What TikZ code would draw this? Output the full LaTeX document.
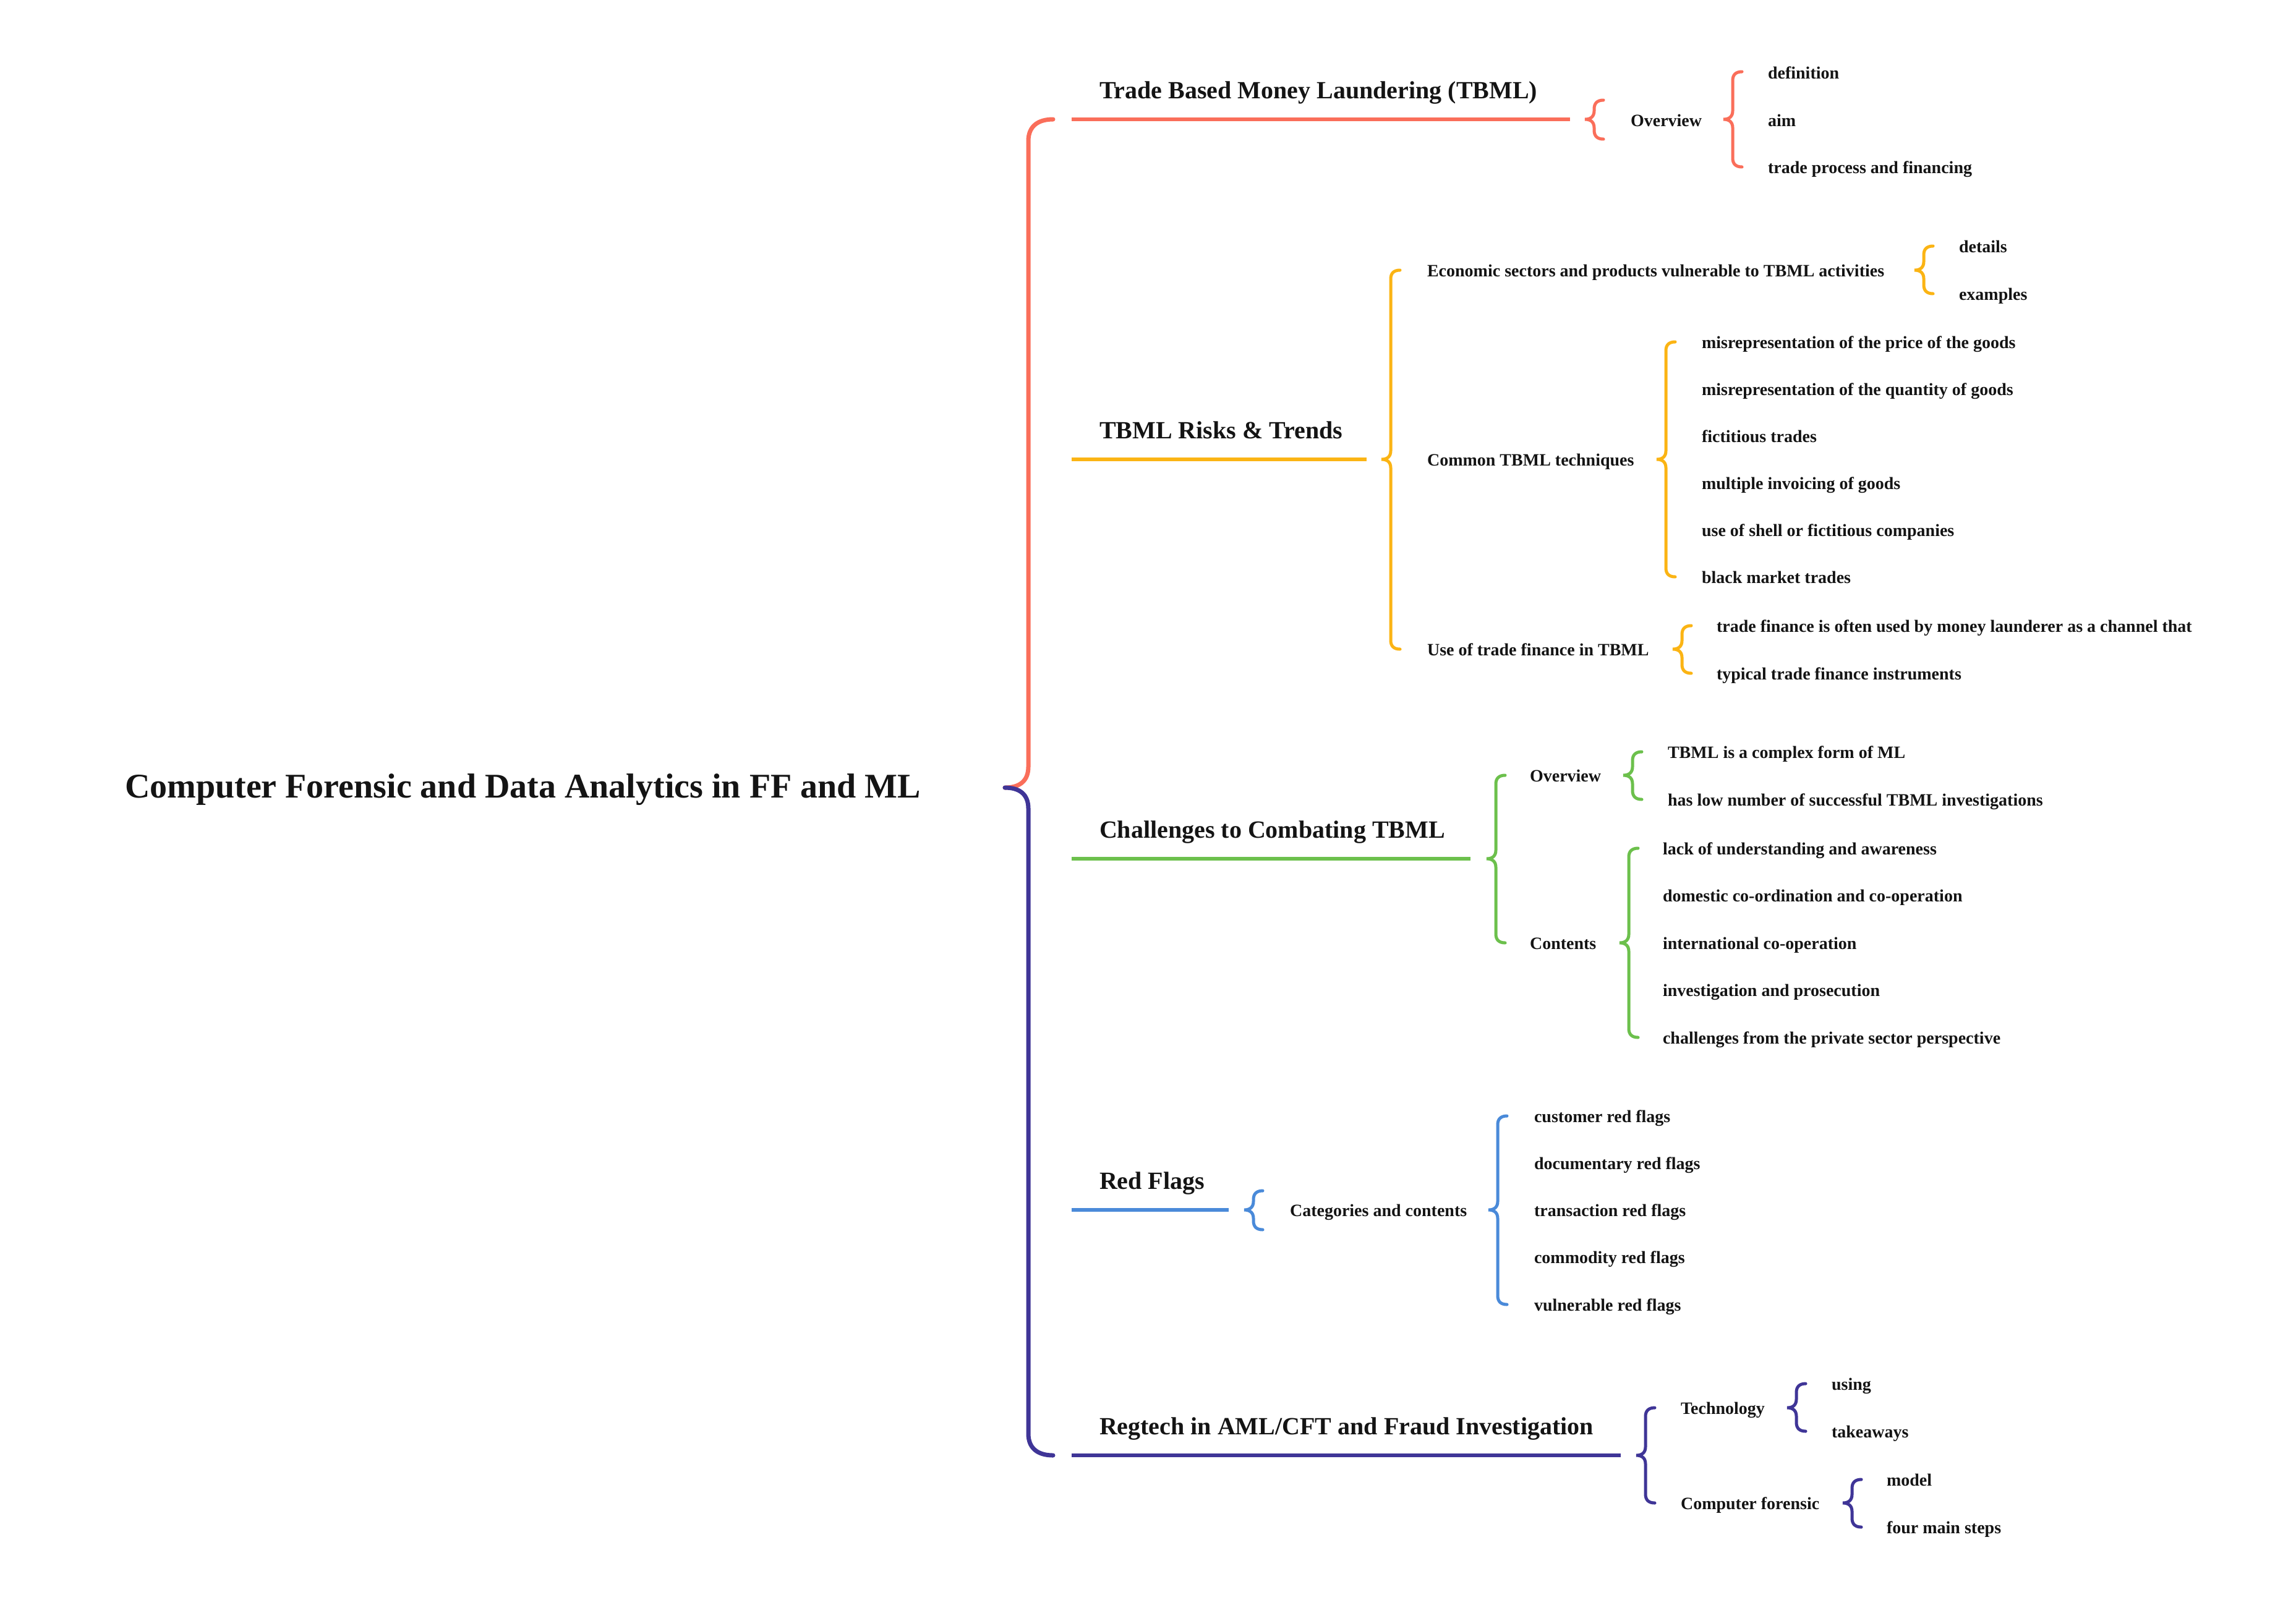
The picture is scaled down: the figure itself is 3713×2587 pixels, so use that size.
\documentclass[tikz,border=0pt]{standalone}
\usepackage{fontspec}
\setmainfont{Liberation Serif}
\definecolor{cred}{HTML}{FA6E5A}
\definecolor{cyellow}{HTML}{FBB414}
\definecolor{cgreen}{HTML}{6CC04C}
\definecolor{cblue}{HTML}{4A8AD9}
\definecolor{cpurple}{HTML}{3F3597}
\definecolor{ink}{HTML}{141414}
% brace: colour, x of tip, y top, y tip, y bottom
\newcommand{\mybrace}[5]{%
  \draw[bracel,#1] (#2+30,#3) .. controls (#2+20,#3) and (#2+15,#3+5) .. (#2+15,#3+14)
    -- (#2+15,#4-14) .. controls (#2+15,#4-5) and (#2+10,#4) .. (#2,#4)
    .. controls (#2+10,#4) and (#2+15,#4+5) .. (#2+15,#4+14)
    -- (#2+15,#5-14) .. controls (#2+15,#5-5) and (#2+20,#5) .. (#2+30,#5);}
\begin{document}
\begin{tikzpicture}[x=0.2pt,y=-0.2pt,
  rootnode/.style={anchor=base west,inner sep=0pt,text=ink,font=\bfseries\fontsize{11.2}{13}\selectfont},
  lone/.style={anchor=base west,inner sep=0pt,text=ink,font=\bfseries\fontsize{8}{10}\selectfont},
  ltwo/.style={anchor=base west,inner sep=0pt,text=ink,font=\bfseries\fontsize{5.6}{7}\selectfont},
  mainline/.style={line width=1.2pt},
  bracel/.style={line width=1pt,line cap=round}]
\useasboundingbox (0,0) rectangle (3713,2587);

% root
\node[rootnode] (root) at (201,1290) {Computer Forensic and Data Analytics in FF and ML};
\draw[cred,line width=1.4pt,line cap=round] (1703,193) .. controls (1680,193) and (1663,203) .. (1663,228)
  -- (1663,1240) .. controls (1663,1264) and (1648,1274) .. (1625,1274);
\draw[cpurple,line width=1.4pt,line cap=round] (1625,1274) .. controls (1648,1274) and (1663,1284) .. (1663,1308)
  -- (1663,2319) .. controls (1663,2344) and (1680,2354) .. (1703,2354);

% ---------- branch 1 (red)
\node[lone] (b1) at (1777,159) {Trade Based Money Laundering (TBML)};
\coordinate (b1s) at (1733,193); \coordinate (b1e) at (2539,193);
\draw[mainline,cred] (b1s) -- (b1e);
\mybrace{cred}{2563}{162}{193}{225}
\node[ltwo] (b1o) at (2636,204) {Overview};
\mybrace{cred}{2787}{116}{193}{270}
\node[ltwo] (b1o1) at (2858,127) {definition};
\node[ltwo] (b1o2) at (2858,204) {aim};
\node[ltwo] (b1o3) at (2858,280) {trade process and financing};

% ---------- branch 2 (yellow)
\node[lone] (b2) at (1777,709) {TBML Risks \& Trends};
\coordinate (b2s) at (1733,743); \coordinate (b2e) at (2210,743);
\draw[mainline,cyellow] (b2s) -- (b2e);
\mybrace{cyellow}{2234}{437}{743}{1050}
\node[ltwo] (b2a) at (2307,447) {Economic sectors and products vulnerable to TBML activities};
\node[ltwo] (b2b) at (2307,753) {Common TBML techniques};
\node[ltwo] (b2c) at (2307,1060) {Use of trade finance in TBML};
\mybrace{cyellow}{3096}{398}{437}{475}
\node[ltwo] (b2a1) at (3167,408) {details};
\node[ltwo] (b2a2) at (3167,485) {examples};
\mybrace{cyellow}{2679}{553}{743}{933}
\node[ltwo] (b2b1) at (2751,563) {misrepresentation of the price of the goods};
\node[ltwo] (b2b2) at (2751,639) {misrepresentation of the quantity of goods};
\node[ltwo] (b2b3) at (2751,715) {fictitious trades};
\node[ltwo] (b2b4) at (2751,791) {multiple invoicing of goods};
\node[ltwo] (b2b5) at (2751,867) {use of shell or fictitious companies};
\node[ltwo] (b2b6) at (2751,943) {black market trades};
\mybrace{cyellow}{2705}{1012}{1050}{1089}
\node[ltwo] (b2c1) at (2775,1022) {trade finance is often used by money launderer as a channel that};
\node[ltwo] (b2c2) at (2775,1099) {typical trade finance instruments};

% ---------- branch 3 (green)
\node[lone] (b3) at (1777,1355) {Challenges to Combating TBML};
\coordinate (b3s) at (1733,1389); \coordinate (b3e) at (2378,1389);
\draw[mainline,cgreen] (b3s) -- (b3e);
\mybrace{cgreen}{2404}{1254}{1389}{1525}
\node[ltwo] (b3a) at (2473,1264) {Overview};
\node[ltwo] (b3b) at (2473,1535) {Contents};
\mybrace{cgreen}{2625}{1216}{1254}{1293}
\node[ltwo] (b3a1) at (2696,1226) {TBML is a complex form of ML};
\node[ltwo] (b3a2) at (2696,1303) {has low number of successful TBML investigations};
\mybrace{cgreen}{2619}{1372}{1525}{1678}
\node[ltwo] (b3b1) at (2688,1382) {lack of understanding and awareness};
\node[ltwo] (b3b2) at (2688,1458) {domestic co-ordination and co-operation};
\node[ltwo] (b3b3) at (2688,1535) {international co-operation};
\node[ltwo] (b3b4) at (2688,1611) {investigation and prosecution};
\node[ltwo] (b3b5) at (2688,1688) {challenges from the private sector perspective};

% ---------- branch 4 (blue)
\node[lone] (b4) at (1777,1923) {Red Flags};
\coordinate (b4s) at (1733,1957); \coordinate (b4e) at (1987,1957);
\draw[mainline,cblue] (b4s) -- (b4e);
\mybrace{cblue}{2012}{1926}{1957}{1989}
\node[ltwo] (b4a) at (2085,1967) {Categories and contents};
\mybrace{cblue}{2407}{1805}{1957}{2110}
\node[ltwo] (b4a1) at (2480,1815) {customer red flags};
\node[ltwo] (b4a2) at (2480,1891) {documentary red flags};
\node[ltwo] (b4a3) at (2480,1967) {transaction red flags};
\node[ltwo] (b4a4) at (2480,2043) {commodity red flags};
\node[ltwo] (b4a5) at (2480,2120) {vulnerable red flags};

% ---------- branch 5 (purple)
\node[lone] (b5) at (1777,2320) {Regtech in AML/CFT and Fraud Investigation};
\coordinate (b5s) at (1733,2354); \coordinate (b5e) at (2621,2354);
\draw[mainline,cpurple] (b5s) -- (b5e);
\mybrace{cpurple}{2646}{2277}{2354}{2431}
\node[ltwo] (b5a) at (2717,2287) {Technology};
\node[ltwo] (b5b) at (2717,2441) {Computer forensic};
\mybrace{cpurple}{2890}{2238}{2277}{2315}
\node[ltwo] (b5a1) at (2961,2248) {using};
\node[ltwo] (b5a2) at (2961,2325) {takeaways};
\mybrace{cpurple}{2980}{2393}{2431}{2470}
\node[ltwo] (b5b1) at (3050,2403) {model};
\node[ltwo] (b5b2) at (3050,2480) {four main steps};
\end{tikzpicture}
\end{document}
